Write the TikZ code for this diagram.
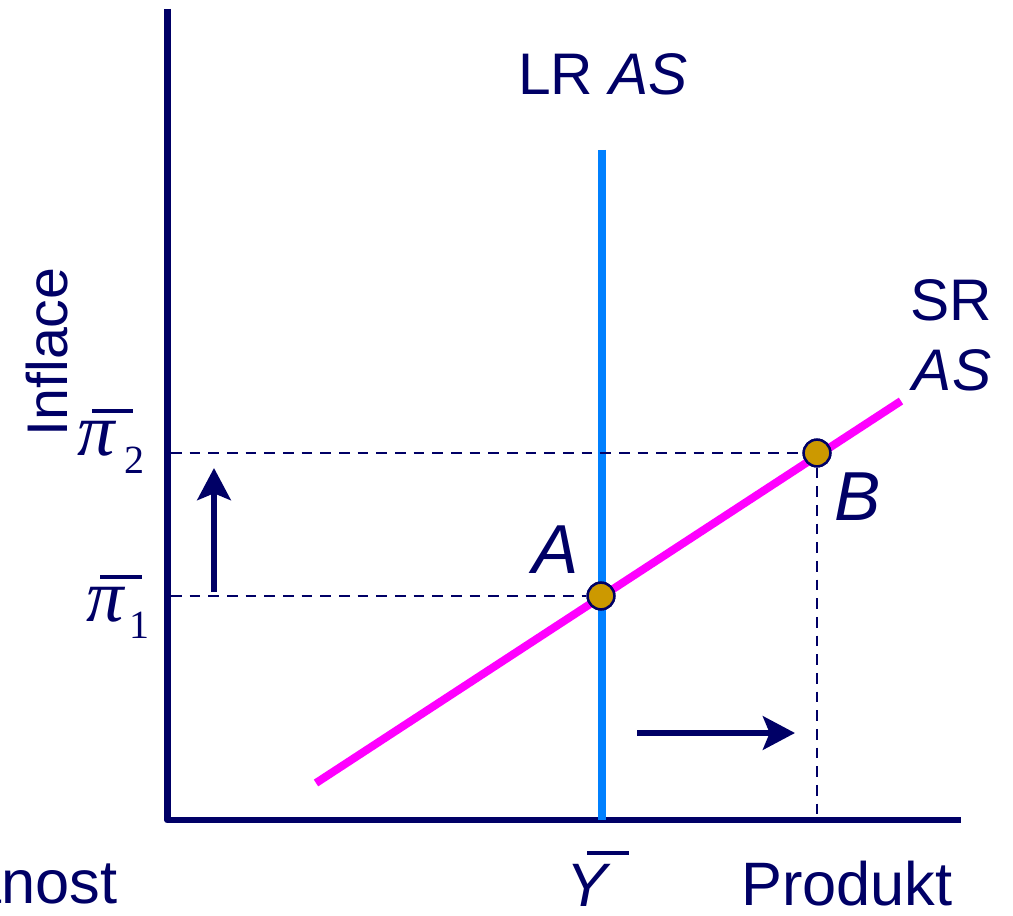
\documentclass[tikz,border=0pt]{standalone}
\usepackage{fontspec}
\setmainfont{Liberation Sans}
\newfontfamily\serifpi{Liberation Serif}
\usetikzlibrary{arrows.meta}
\definecolor{navy}{RGB}{0,0,102}
\definecolor{lrblue}{RGB}{0,128,255}
\definecolor{srmag}{RGB}{255,0,255}
\definecolor{dotgold}{RGB}{204,153,0}
\newcommand{\fs}[1]{\fontsize{#1}{#1}\selectfont}
\tikzset{
  axisline/.style={navy, line width=5.2pt, line join=round},
  guide/.style={navy, line width=1.9pt, dash pattern=on 8pt off 6pt},
  shiftarrow/.style={navy, line width=4.5pt, -{Stealth[length=24pt, width=25pt, inset=5pt]}},
  eqdot/.style={circle, fill=dotgold, draw=navy, line width=1.8pt, minimum size=20pt, inner sep=0pt},
  lbl/.style={text=navy, inner sep=0pt, anchor=base},
  barline/.style={navy, line width=2.4pt},
}
\begin{document}
\begin{tikzpicture}[x=0.75pt, y=-0.75pt]
\useasboundingbox (0,0) rectangle (1013,916);
% axes
\coordinate (ytop) at (167.5,9);
\coordinate (origin) at (167.5,820);
\coordinate (xend) at (961,820);
\draw[axisline] (ytop) -- (origin) -- (xend);
% LR AS
\coordinate (lrtop) at (602,150);
\coordinate (lrbot) at (602,820);
\draw[lrblue, line width=6pt] (lrtop) -- (lrbot);
% SR AS
\coordinate (srlow) at (316,783);
\coordinate (srhigh) at (901,401);
\draw[srmag, line width=6pt] (srlow) -- (srhigh);
% guide coordinates
\coordinate (y2) at (171,453);
\coordinate (y1) at (171,596);
\coordinate (xB) at (817,820);
% dots
\node[eqdot] (A) at (601,596) {};
\node[eqdot] (B) at (817,453) {};
% dashed guides
\draw[guide] (y2) -- (B.west);
\draw[guide] (y1) -- (A.west);
\draw[guide] (B.south) -- (xB);
% redraw dots on top
\node[eqdot] at (601,596) {};
\node[eqdot] at (817,453) {};
% shift arrows
\coordinate (upS) at (214,592);
\coordinate (upE) at (214,468);
\draw[shiftarrow] (upS) -- (upE);
\coordinate (rtS) at (637,733);
\coordinate (rtE) at (795,733);
\draw[shiftarrow] (rtS) -- (rtE);
% labels
\node[lbl] (lrlabel) at (603,95) {\fs{44}LR \textit{AS}};
\node[lbl] (srlabel) at (951,320) {\fs{44}SR};
\node[lbl] (aslabel) at (952,390) {\fs{44}\textit{AS}};
\node[lbl] (Alabel) at (556,573) {\fs{52}\textit{A}};
\node[lbl] (Blabel) at (858,520) {\fs{52}\textit{B}};
\node[lbl, rotate=90] (inflace) at (67,352) {\fs{43}Inflace};
\node[lbl] (produkt) at (847,905) {\fs{46}Produkt};
\node[lbl, anchor=base east] (anost) at (118,903) {\fs{46}anost};
% pi labels
\node[lbl] (pi2) at (97,455) {\serifpi\fs{56}\textit{π}};
\draw[barline] (92,411) -- (133,411);
\node[lbl] (sub2) at (134,473) {\serifpi\fs{30}2};
\node[lbl] (pi1) at (106,621) {\serifpi\fs{56}\textit{π}};
\draw[barline] (100,577) -- (142,577);
\node[lbl] (sub1) at (139,638) {\serifpi\fs{30}1};
% Y bar
\node[lbl] (ybar) at (589,906) {\fs{46}\textit{Y}};
\draw[barline, line width=3pt] (587,853) -- (629,853);
\end{tikzpicture}
\end{document}
